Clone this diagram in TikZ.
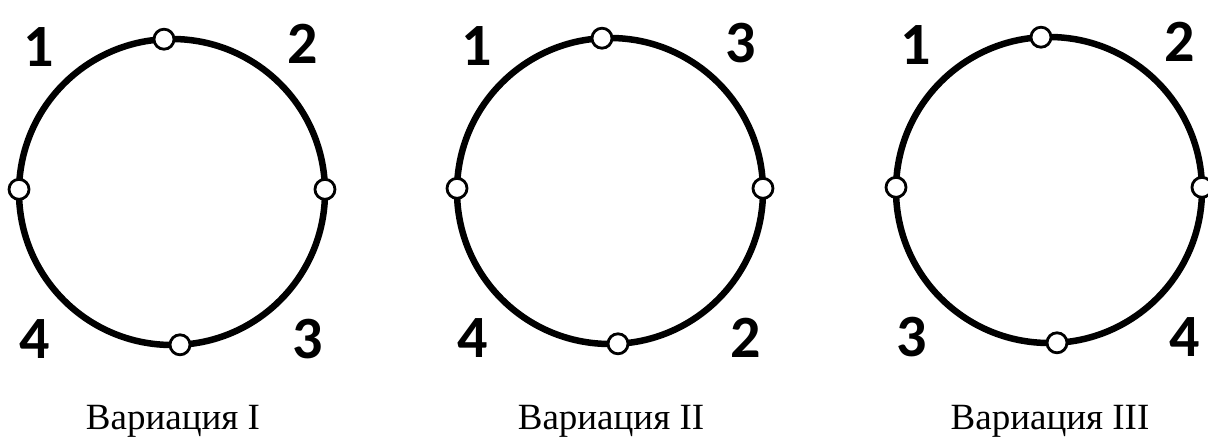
\documentclass[tikz,border=0pt]{standalone}
\usepackage{fontspec}
\setmainfont{Liberation Serif}
\newfontfamily\digitfont{Carlito Bold}
\usetikzlibrary{calc,positioning}
\tikzset{
 var ring/.style={line width=6.5pt},
 var port/.style={circle,fill=white,draw=black,line width=2.8pt,
                  minimum size=20pt,inner sep=0pt,outer sep=0pt},
 var label/.style={font=\digitfont\fontsize{60}{60}\selectfont,inner sep=0pt},
 var caption/.style={font=\fontsize{37}{40}\selectfont,inner sep=0pt,anchor=base}
}

\begin{document}
\begin{tikzpicture}[x=1pt,y=1pt]
 \useasboundingbox (0,0) rectangle (1208,439);
 % ring centres, one per variation
 \coordinate (c1) at (172,247);
 \coordinate (c2) at (610,248);
 \coordinate (c3) at (1049,249);

 \foreach \i/\tl/\tr/\bl/\br/\rom in {1/1/2/4/3/I, 2/1/3/4/2/II, 3/1/2/3/4/III} {
  \draw[var ring] (c\i) circle (153);
  \node[var port] (top\i) at ($(c\i)+(93:153)$) {};
  \node[var port] (left\i) at ($(c\i)+(179:153)$) {};
  \node[var port] (bot\i) at ($(c\i)+(273:153)$) {};
  \node[var port] (right\i) at ($(c\i)+(1:153)$) {};
  \node[var label] (ltl\i) at ($(c\i)+(-133,145)$) {\tl};
  \node[var label] (ltr\i) at ($(c\i)+(131,148)$) {\tr};
  \node[var label] (lbl\i) at ($(c\i)+(-137,-147)$) {\bl};
  \node[var label] (lbr\i) at ($(c\i)+(136,-147)$) {\br};
  \node[var caption] (cap\i) at ($(c\i|-0,9)+(1,0)$) {Вариация \rom};
 }
\end{tikzpicture}
\end{document}
